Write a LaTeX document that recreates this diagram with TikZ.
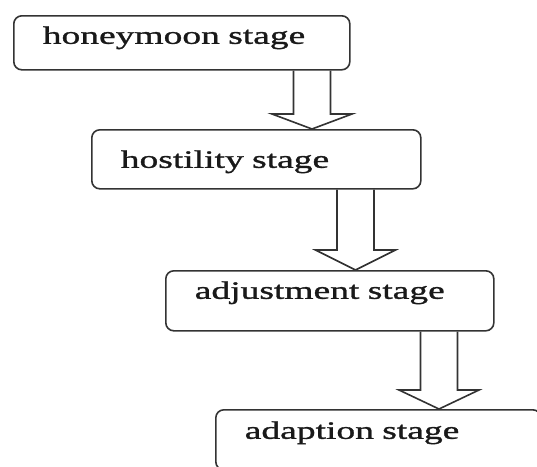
\documentclass[tikz,border=0pt]{standalone}
\usepackage{fontspec}
\setmainfont[FakeStretch=1.5, FakeBold=1.2]{Liberation Serif}
\usetikzlibrary{calc}

\tikzset{
  stage/.style={draw=black!80, line width=1.6pt, rounded corners=8pt,
    align=left, inner xsep=29pt, inner ysep=0pt, anchor=north west,
    text=black!90, font=\fontsize{25}{30}\selectfont},
  blockarrow/.style={draw=black!80, line width=1.6pt}
}

% block arrow: from, to, centre x, head length
\newcommand{\stagearrow}[4]{%
  \draw[blockarrow] let \p1=(#1.south), \p2=(#2.north) in
    (#3pt-18.5pt,\y1) -- (#3pt-18.5pt,\y2+#4pt) -- (#3pt-40pt,\y2+#4pt)
    -- (#3pt,\y2) -- (#3pt+40pt,\y2+#4pt) -- (#3pt+18.5pt,\y2+#4pt)
    -- (#3pt+18.5pt,\y1);}

\begin{document}
\begin{tikzpicture}[x=1pt, y=-1pt]
	\path[use as bounding box, clip] (0,0) rectangle (537,466);
	\node[stage, text width=278pt, text height=28pt, text depth=26pt] (honey) at (13,15) {honeymoon stage};
	\node[stage, text width=271pt, text height=38pt, text depth=21pt] (host) at (91,129) {hostility stage};
	\node[stage, text width=270pt, text height=28pt, text depth=32pt] (adjust) at (165,270) {adjustment stage};
	\node[stage, text width=267pt, text height=29pt, text depth=31pt] (adapt) at (215,409) {adaption stage};
	\stagearrow{honey}{host}{312}{15}
	\stagearrow{host}{adjust}{355.5}{20}
	\stagearrow{adjust}{adapt}{439}{19}
\end{tikzpicture}
\end{document}
